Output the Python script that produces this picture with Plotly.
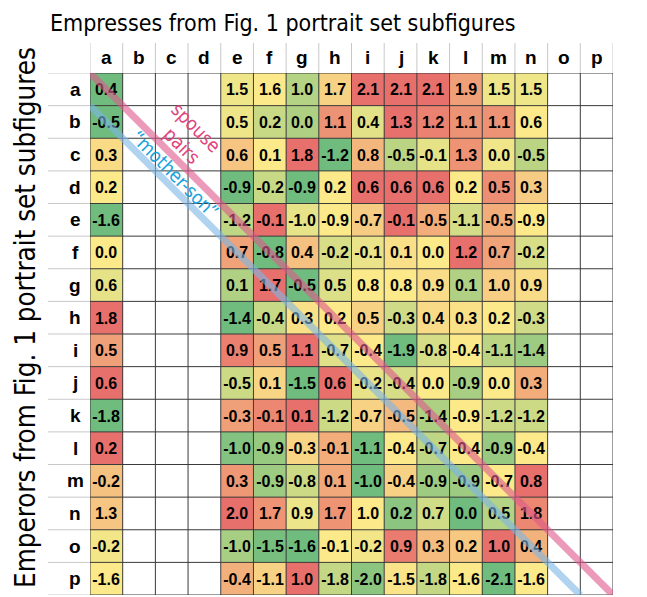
import numpy as np
import plotly.graph_objects as go

# Column (empress) and row (emperor) labels
cols = list("abcdefghijklmnop")
rows = list("abcdefghijklmnop")
# columns that carry values: a, e..n
filled_cols = ["a", "e", "f", "g", "h", "i", "j", "k", "l", "m", "n"]

# values per emperor row, in the order of filled_cols
row_a = [0.4, 1.5, 1.6, 1.0, 1.7, 2.1, 2.1, 2.1, 1.9, 1.5, 1.5]
row_b = [-0.5, 0.5, 0.2, 0.0, 1.1, 0.4, 1.3, 1.2, 1.1, 1.1, 0.6]
row_c = [0.3, 0.6, 0.1, 1.8, -1.2, 0.8, -0.5, -0.1, 1.3, 0.0, -0.5]
row_d = [0.2, -0.9, -0.2, -0.9, 0.2, 0.6, 0.6, 0.6, 0.2, 0.5, 0.3]
row_e = [-1.6, -1.2, -0.1, -1.0, -0.9, -0.7, -0.1, -0.5, -1.1, -0.5, -0.9]
row_f = [0.0, 0.7, -0.8, 0.4, -0.2, -0.1, 0.1, 0.0, 1.2, 0.7, -0.2]
row_g = [0.6, 0.1, 1.7, -0.5, 0.5, 0.8, 0.8, 0.9, 0.1, 1.0, 0.9]
row_h = [1.8, -1.4, -0.4, 0.3, 0.2, 0.5, -0.3, 0.4, 0.3, 0.2, -0.3]
row_i = [0.5, 0.9, 0.5, 1.1, -0.7, -0.4, -1.9, -0.8, -0.4, -1.1, -1.4]
row_j = [0.6, -0.5, 0.1, -1.5, 0.6, -0.2, -0.4, 0.0, -0.9, 0.0, 0.3]
row_k = [-1.8, -0.3, -0.1, 0.1, -1.2, -0.7, -0.5, -1.4, -0.9, -1.2, -1.2]
row_l = [0.2, -1.0, -0.9, -0.3, -0.1, -1.1, -0.4, -0.7, -0.4, -0.9, -0.4]
row_m = [-0.2, 0.3, -0.9, -0.8, 0.1, -1.0, -0.4, -0.9, -0.9, -0.7, 0.8]
row_n = [1.3, 2.0, 1.7, 0.9, 1.7, 1.0, 0.2, 0.7, 0.0, 0.5, 1.8]
row_o = [-0.2, -1.0, -1.5, -1.6, -0.1, -0.2, 0.9, 0.3, 0.2, 1.0, 0.4]
row_p = [-1.6, -0.4, -1.1, 1.0, -1.8, -2.0, -1.5, -1.8, -1.6, -2.1, -1.6]

all_rows = [row_a, row_b, row_c, row_d, row_e, row_f, row_g, row_h,
            row_i, row_j, row_k, row_l, row_m, row_n, row_o, row_p]

GREEN, YELLOW, RED = "#6FBC7E", "#FBE98A", "#E8706C"

n = len(rows)
z = [[None] * n for _ in range(n)]
txt = [[""] * n for _ in range(n)]
for r, vals in enumerate(all_rows):
    v = np.array(vals, dtype=float)
    mn, mx, med = v.min(), v.max(), np.percentile(v, 50)
    for c_lab, val in zip(filled_cols, vals):
        c = cols.index(c_lab)
        if val <= med:
            t = 0.0 if med == mn else 0.5 * (val - mn) / (med - mn)
        else:
            t = 1.0 if mx == med else 0.5 + 0.5 * (val - med) / (mx - med)
        z[r][c] = t
        txt[r][c] = f"{val:.1f}"

fig = go.Figure()
fig.add_trace(go.Heatmap(
    z=z, x=list(range(n)), y=list(range(n)), text=txt,
    texttemplate="%{text}",
    textfont=dict(family="Liberation Sans, Arial, sans-serif", size=16, color="black", weight="bold"),
    colorscale=[[0, GREEN], [0.5, YELLOW], [1, RED]], zmin=0, zmax=1,
    showscale=False, hoverinfo="skip",
))

W, H = 647, 597
L, R, T, B = 90, 34, 73, 2
pw, ph = W - L - R, H - T - B

shapes = []
# header-area light grey lines
for i in range(n + 1):
    shapes.append(dict(type="line", xref="x", yref="paper", x0=i - 0.5, x1=i - 0.5,
                       y0=1, y1=1 + 30 / ph, line=dict(color="#c8c8c8", width=1)))
    shapes.append(dict(type="line", xref="paper", yref="y", x0=-42 / pw, x1=0,
                       y0=i - 0.5, y1=i - 0.5, line=dict(color="#c8c8c8", width=1)))
# cell grid
for i in range(n + 1):
    shapes.append(dict(type="line", xref="x", yref="y", x0=i - 0.5, x1=i - 0.5,
                       y0=-0.5, y1=n - 0.5, line=dict(color="#3a3a3a", width=1)))
    shapes.append(dict(type="line", xref="x", yref="y", x0=-0.5, x1=n - 0.5,
                       y0=i - 0.5, y1=i - 0.5, line=dict(color="#3a3a3a", width=1)))
# diagonal guide lines
shapes.append(dict(type="line", xref="x", yref="y", x0=-0.5, y0=-0.5, x1=n - 0.5, y1=n - 0.5,
                   line=dict(color="#DE5A8C", width=7), opacity=0.6))
shapes.append(dict(type="line", xref="x", yref="y", x0=-0.5, y0=0.5, x1=n - 1.5, y1=n - 0.5,
                   line=dict(color="#7DB6E6", width=7), opacity=0.6))

annotations = []
lab_font = dict(family="Liberation Sans, Arial, sans-serif", size=19, color="black", weight="bold")
for i, lab in enumerate(cols):
    annotations.append(dict(x=i, xref="x", y=1 + 15 / ph, yref="paper", text=lab,
                            showarrow=False, font=lab_font, xanchor="center", yanchor="middle"))
for i, lab in enumerate(rows):
    annotations.append(dict(x=-15 / pw, xref="paper", y=i, yref="y", text=lab,
                            showarrow=False, font=lab_font, xanchor="center", yanchor="middle"))

title_font = "Liberation Sans Narrow, DejaVu Sans Condensed, sans-serif"
annotations.append(dict(x=(282 - L) / pw, xref="paper", y=1 + (T - 23) / ph, yref="paper",
                        text="Empresses from Fig. 1 portrait set subfigures", showarrow=False,
                        xanchor="center", yanchor="middle",
                        font=dict(family=title_font, size=23, color="black")))
annotations.append(dict(x=(25 - L) / pw, xref="paper", y=1 - (318 - T) / ph, yref="paper",
                        text="Emperors from Fig. 1 portrait set subfigures", showarrow=False,
                        xanchor="center", yanchor="middle",
                        textangle=-90, font=dict(family=title_font, size=27.5, color="black")))
annotations.append(dict(x=2.74, y=1.16, xref="x", yref="y", text="spouse", showarrow=False,
                        xanchor="center", yanchor="middle",
                        textangle=45, font=dict(family=title_font, size=19, color="#E0457E")))
annotations.append(dict(x=2.30, y=1.72, xref="x", yref="y", text="pairs", showarrow=False,
                        xanchor="center", yanchor="middle",
                        textangle=45, font=dict(family=title_font, size=19, color="#E0457E")))
annotations.append(dict(x=2.10, y=2.60, xref="x", yref="y", text="\u201cmother-son\u201d",
                        showarrow=False, textangle=45, xanchor="center", yanchor="middle",
                        font=dict(family=title_font, size=19, color="#1AA3DD")))

fig.update_layout(
    width=W, height=H, margin=dict(l=L, r=R, t=T, b=B),
    paper_bgcolor="white", plot_bgcolor="white",
    xaxis=dict(range=[-0.5, n - 0.5], visible=False, fixedrange=True),
    yaxis=dict(range=[n - 0.5, -0.5], visible=False, fixedrange=True),
    shapes=shapes, annotations=annotations, showlegend=False,
)

fig.write_html("out.html", config={"displayModeBar": False},
               post_script="document.body.style.margin='0';document.body.style.overflow='hidden';")
